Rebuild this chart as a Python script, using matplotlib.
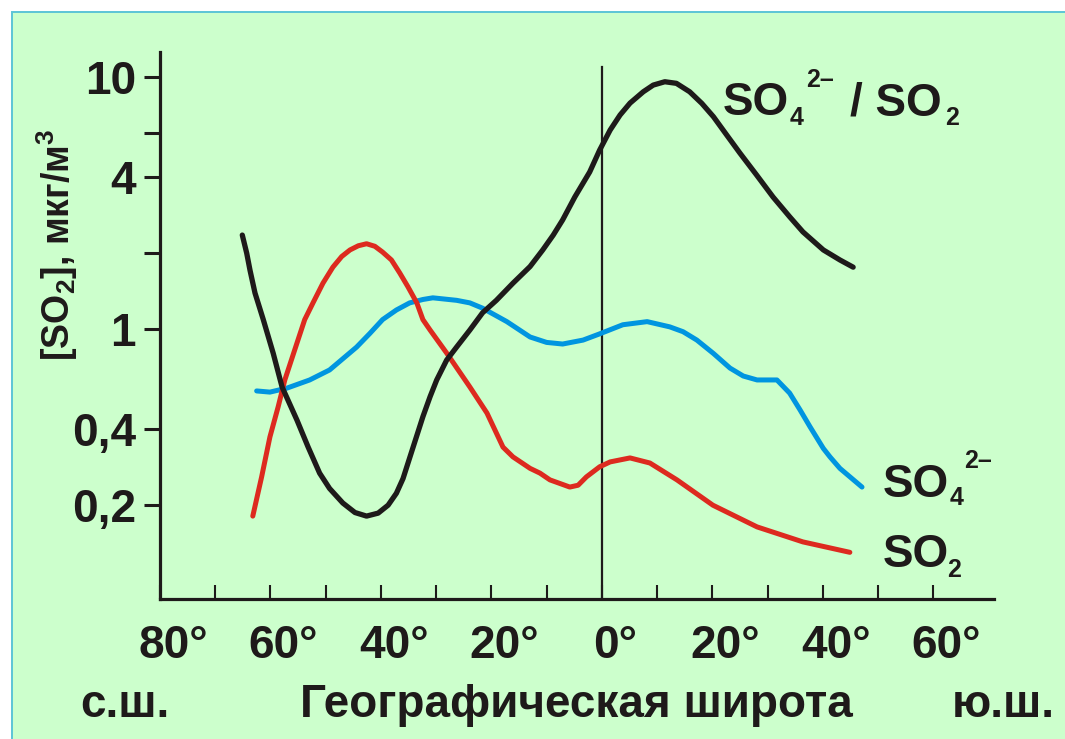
import matplotlib
matplotlib.use("Agg")
from matplotlib import pyplot as plt
from matplotlib.ticker import FixedLocator, NullFormatter
from matplotlib.patches import Rectangle
from matplotlib.transforms import ScaledTranslation

plt.rcParams['font.family'] = ['Liberation Sans', 'DejaVu Sans']
plt.rcParams['font.weight'] = 'bold'
plt.rcParams['mathtext.fontset'] = 'custom'
plt.rcParams['mathtext.rm'] = 'Liberation Sans:bold'
plt.rcParams['mathtext.it'] = 'Liberation Sans:bold'
plt.rcParams['mathtext.bf'] = 'Liberation Sans:bold'

# latitude: + north, - south ; concentration in mkg/m3
ratio_lat = [65.1, 64.3, 63.7, 62.8, 61.3, 59.5, 57.9, 55.2, 53.2, 51.1, 49.3, 46.9,
             44.7, 42.6, 40.5, 38.7, 37.2, 36.0, 34.8, 32.4, 31.1, 29.9, 28.1, 26.3,
             23.9, 21.6, 19.1, 16.1, 13.0, 10.7, 8.8, 7.1, 4.9, 2.2, 0.4, -1.5,
             -3.3, -5.1, -7.5, -9.3, -11.4, -13.5, -15.9, -18.1, -20.2, -22.6, -25.0, -28.0,
             -31.0, -34.0, -36.4, -40.1, -43.1, -45.5]
ratio_val = [2.36, 2.00, 1.71, 1.39, 1.09, 0.801, 0.589, 0.435, 0.341, 0.268, 0.233, 0.204,
             0.187, 0.181, 0.186, 0.200, 0.223, 0.255, 0.308, 0.449, 0.539, 0.628, 0.753, 0.848,
             0.991, 1.16, 1.30, 1.52, 1.77, 2.06, 2.36, 2.71, 3.34, 4.20, 5.13, 6.16,
             7.07, 7.88, 8.74, 9.29, 9.58, 9.44, 8.74, 7.86, 6.96, 5.89, 4.99, 4.09,
             3.34, 2.79, 2.43, 2.06, 1.88, 1.76]

so2_lat = [63.2, 61.6, 60.1, 58.6, 57.4, 55.2, 53.8, 52.3, 50.5, 48.7, 47.1, 45.6,
           44.1, 42.6, 41.1, 39.7, 38.1, 36.6, 35.1, 33.5, 32.4, 31.1, 28.1, 23.9,
           20.8, 17.9, 16.1, 13.0, 11.2, 9.4, 5.8, 4.3, 2.8, 0.4, -1.5, -5.1,
           -8.7, -13.6, -20.1, -28.1, -36.4, -44.9]
so2_val = [0.181, 0.259, 0.373, 0.492, 0.628, 0.880, 1.09, 1.27, 1.52, 1.76, 1.94, 2.06,
           2.14, 2.18, 2.13, 2.02, 1.88, 1.67, 1.47, 1.27, 1.09, 0.991, 0.803, 0.589,
           0.464, 0.340, 0.311, 0.280, 0.268, 0.252, 0.236, 0.240, 0.259, 0.284, 0.297, 0.308,
           0.294, 0.252, 0.200, 0.164, 0.143, 0.130]

so4_lat = [62.5, 60.1, 57.0, 52.9, 49.3, 44.4, 42.0, 39.7, 37.2, 34.8, 32.4, 30.6,
           26.3, 23.9, 21.6, 17.2, 14.9, 13.0, 10.0, 7.1, 3.4, 0.5, -3.8, -8.2,
           -12.3, -14.7, -17.2, -20.2, -23.2, -25.6, -28.1, -31.7, -34.0, -35.9, -37.7, -40.1,
           -41.3, -43.1, -47.1]
so4_val = [0.568, 0.562, 0.583, 0.628, 0.688, 0.848, 0.961, 1.09, 1.19, 1.27, 1.31, 1.33,
           1.30, 1.27, 1.21, 1.07, 0.991, 0.930, 0.885, 0.872, 0.904, 0.955, 1.04, 1.07,
           1.02, 0.976, 0.904, 0.800, 0.700, 0.651, 0.628, 0.628, 0.557, 0.477, 0.409, 0.336,
           0.311, 0.280, 0.236]

lat_ticks = [80, 60, 40, 20, 0, -20, -40, -60]
lat_labels = ["80°", "60°", "40°", "20°", "0°", "20°", "40°", "60°"]
lat_minor = [70, 50, 30, 10, -10, -30, -50]
conc_ticks = [0.2, 0.4, 1, 4, 10]
conc_labels = ["0,2", "0,4", "1", "4", "10"]
conc_minor = [2, 6]

W, H = 1065, 739
ink = '#1e1a1a'

fig = plt.figure(figsize=(W / 100, H / 100), dpi=100)
fig.patch.set_facecolor('white')
fig.patches.append(Rectangle((12 / W, -0.05), 1.1, 1 - 11.5 / H + 0.05,
                             transform=fig.transFigure, facecolor='#ccffcc',
                             edgecolor='#5cc4d6', lw=1.4, zorder=-5))

ax = fig.add_axes([160 / W, 1 - 598.7 / H, 834 / W, (598.7 - 52) / H])
ax.patch.set_alpha(0)
ax.set_yscale('log')
ax.set_xlim(80, -71)
ax.set_ylim(0.0851, 12.57)

for side in ['top', 'right']:
    ax.spines[side].set_visible(False)
for side in ['left', 'bottom']:
    ax.spines[side].set_linewidth(2.3)
    ax.spines[side].set_color(ink)

ax.axvline(0, ymax=0.9726, color=ink, lw=1.6)

ax.plot(so4_lat, so4_val, color='#0095e0', lw=3.6, solid_capstyle='round', solid_joinstyle='round')
ax.plot(so2_lat, so2_val, color='#dd2a1f', lw=3.6, solid_capstyle='round', solid_joinstyle='round')
ax.plot(ratio_lat, ratio_val, color=ink, lw=3.8, solid_capstyle='round', solid_joinstyle='round')

ax.set_xticks(lat_ticks)
ax.set_xticklabels(lat_labels)
ax.set_xticks(lat_minor, minor=True)
ax.tick_params(axis='x', which='both', direction='in', length=10.4, width=1.5,
               pad=18, labelsize=33, color=ink, labelcolor=ink)
shift = ScaledTranslation(13 / 100, 0, fig.dpi_scale_trans)
for lab in ax.get_xticklabels():
    lab.set_transform(lab.get_transform() + shift)

ax.set_yticks(conc_ticks)
ax.set_yticklabels(conc_labels)
ax.yaxis.set_minor_locator(FixedLocator(conc_minor))
ax.yaxis.set_minor_formatter(NullFormatter())
ax.tick_params(axis='y', which='both', direction='out', length=11.5, width=2.2,
               pad=5.8, labelsize=33, color=ink, labelcolor=ink)


def label(x, y, s, size, **kw):
    fig.text(x / W, 1 - y / H, s, fontsize=size, fontweight='bold', va='baseline',
             color=ink, **kw)


# SO4 2- / SO2
label(723, 115, "SO", 33)
label(790, 125, "4", 18)
label(806, 87, "2–", 18)
label(850, 115, "/ SO", 33)
label(945, 125, "2", 18)

# SO4 2-
label(883, 497, "SO", 33)
label(950, 505, "4", 18)
label(964, 468, "2–", 18)

# SO2
label(883, 567, "SO", 33)
label(947, 577, "2", 18)

label(170, 717, "с.ш.", 33, ha='right')
label(576, 717, "Географическая широта", 33, ha='center')
label(1055, 717, "ю.ш.", 33, ha='right')

fig.text(57 / W, 1 - 245 / H, r'[SO$_{2}$], мкг/м$^{3}$', rotation=90, fontsize=27,
         fontweight='bold', ha='center', va='center', color=ink)

fig.savefig('out.png', dpi=100)
